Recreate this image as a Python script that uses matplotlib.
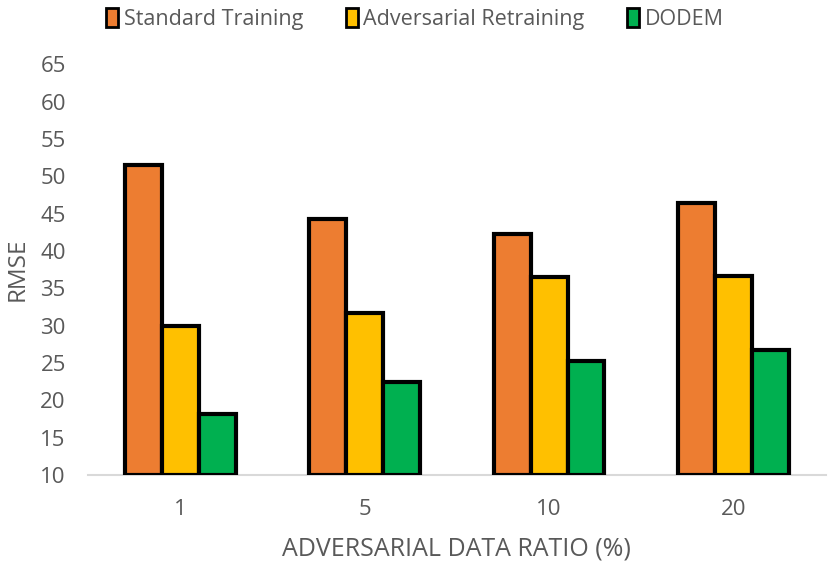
import matplotlib.pyplot as plt
import numpy as np

plt.rcParams['font.family'] = ['Open Sans', 'DejaVu Sans']

ratios = ["1", "5", "10", "20"]
standard = [51.5, 44.3, 42.3, 46.4]
adversarial = [29.9, 31.7, 36.5, 36.7]
dodem = [18.2, 22.5, 25.3, 26.7]

series = [
    ("Standard Training", standard, "#ED7D31"),
    ("Adversarial Retraining", adversarial, "#FFC000"),
    ("DODEM", dodem, "#00B050"),
]

grey = "#595959"
fig = plt.figure(figsize=(8.3, 5.63), dpi=100)
ax = fig.add_axes([0.106, 0.156, 0.889, 0.73])

x = np.arange(len(ratios))
width = 0.2
base = 10
for i, (name, vals, color) in enumerate(series):
    heights = np.array(vals) - base
    ax.bar(x + (i - 1) * width, heights, width, bottom=base, color=color,
           edgecolor="black", linewidth=3, label=name, zorder=3)

ax.set_xlim(-0.5, len(ratios) - 0.5)
ax.set_ylim(10, 65)
ax.set_yticks(range(10, 66, 5))
ax.set_xticks(x)
ax.set_xticklabels(ratios)
ax.tick_params(axis="both", length=0, labelsize=16, colors=grey)
ax.tick_params(axis="x", pad=17)
ax.tick_params(axis="y", pad=16)

for side in ["top", "right", "left"]:
    ax.spines[side].set_visible(False)
ax.spines["bottom"].set_color("#D9D9D9")
ax.spines["bottom"].set_linewidth(1.5)

ax.set_xlabel("ADVERSARIAL DATA RATIO (%)", fontsize=18, color=grey, labelpad=12)
ax.set_ylabel("RMSE", fontsize=17.5, color=grey, labelpad=8)

leg = fig.legend(loc="center", bbox_to_anchor=(0.5, 1 - 19 / 563), ncol=3, frameon=False,
                 fontsize=15.5, labelcolor=grey, handlelength=0.55, handleheight=1.0,
                 handletextpad=0.25, columnspacing=2.0)
for h in leg.legend_handles:
    h.set_linewidth(2)

fig.savefig("out.png", dpi=100)
